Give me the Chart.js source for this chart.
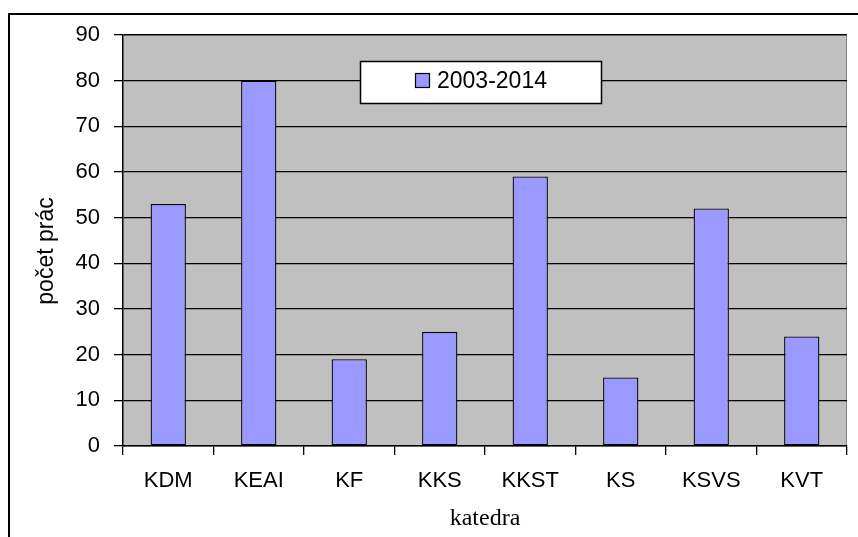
<!DOCTYPE html>
<html>
<head>
<meta charset="utf-8">
<script src="https://cdn.jsdelivr.net/npm/chart.js@4"></script>
<style>
  html, body { margin: 0; padding: 0; background: #ffffff; }
  #wrap { position: relative; width: 858px; height: 537px; overflow: hidden; }
  canvas { display: block; }
</style>
</head>
<body>
<div id="wrap"><canvas id="c" width="858" height="537"></canvas></div>
<script>
const categories = ['KDM', 'KEAI', 'KF', 'KKS', 'KKST', 'KS', 'KSVS', 'KVT'];
const seriesLabel = '2003-2014';
const seriesValues = [53, 80, 19, 25, 59, 15, 52, 24];
const yTicks = [0, 10, 20, 30, 40, 50, 60, 70, 80, 90];
const xTitle = 'katedra';
const yTitle = 'počet prác';

const SANS = '"Liberation Sans", Arial, sans-serif';
const SERIF = '"Liberation Serif", "Times New Roman", serif';

const decor = {
  id: 'decor',
  beforeDatasetsDraw(chart) {
    // nothing
  },
  beforeDraw(chart) {
    const { ctx, chartArea: a } = chart;
    ctx.save();
    ctx.fillStyle = '#C0C0C0';
    ctx.fillRect(a.left, a.top, a.right - a.left, a.bottom - a.top);
    ctx.strokeStyle = '#808080';
    ctx.lineWidth = 1;
    ctx.beginPath();
    ctx.moveTo(a.left, a.top + 0.5);
    ctx.lineTo(a.right - 0.5, a.top + 0.5);
    ctx.lineTo(a.right - 0.5, a.bottom);
    ctx.stroke();
    ctx.restore();
  },
  afterDraw(chart) {
    const { ctx, chartArea: a } = chart;
    ctx.save();
    // outer frame (left and top visible)
    ctx.strokeStyle = '#000';
    ctx.lineWidth = 2;
    ctx.beginPath();
    ctx.moveTo(9, 540);
    ctx.lineTo(9, 14);
    ctx.lineTo(860, 14);
    ctx.stroke();

    // y axis title
    ctx.fillStyle = '#000';
    ctx.font = '23px ' + SANS;
    ctx.textAlign = 'center';
    ctx.textBaseline = 'middle';
    ctx.translate(47, 251);
    ctx.rotate(-Math.PI / 2);
    ctx.fillText(yTitle, 0, 0);
    ctx.restore();

    // x axis title
    ctx.save();
    ctx.fillStyle = '#000';
    ctx.font = '24px ' + SERIF;
    ctx.textAlign = 'center';
    ctx.textBaseline = 'middle';
    ctx.fillText(xTitle, 485, 519);
    ctx.restore();

    // legend box
    const ds = chart.data.datasets[0];
    ctx.save();
    ctx.fillStyle = '#ffffff';
    ctx.fillRect(360, 61, 242, 43);
    ctx.strokeStyle = '#000';
    ctx.lineWidth = 1.5;
    ctx.strokeRect(360.5, 61.5, 241, 42);
    ctx.fillStyle = ds.backgroundColor;
    ctx.fillRect(415, 73, 15, 15);
    ctx.lineWidth = 1.2;
    ctx.strokeStyle = '#000';
    ctx.strokeRect(415.5, 73.5, 14, 14);
    ctx.fillStyle = '#000';
    ctx.font = '23px ' + SANS;
    ctx.textAlign = 'left';
    ctx.textBaseline = 'middle';
    ctx.fillText(ds.label, 437, 82);
    ctx.restore();
  }
};

new Chart(document.getElementById('c'), {
  type: 'bar',
  data: {
    labels: categories,
    datasets: [{
      label: seriesLabel,
      data: seriesValues,
      backgroundColor: '#9999FF',
      borderColor: '#000000',
      borderWidth: 1.3,
      borderSkipped: false,
      barPercentage: 0.39,
      categoryPercentage: 1.0
    }]
  },
  options: {
    responsive: false,
    devicePixelRatio: 1,
    animation: false,
    layout: { padding: { left: 0, top: 35, right: 11, bottom: 0 } },
    plugins: {
      legend: { display: false },
      tooltip: { enabled: false },
      title: { display: false }
    },
    scales: {
      x: {
        offset: true,
        grid: {
          offset: true,
          drawOnChartArea: false,
          drawTicks: true,
          tickLength: 9,
          color: '#000',
          lineWidth: 1.3
        },
        border: { display: true, color: '#000', width: 1.5 },
        ticks: {
          color: '#000',
          font: { family: SANS, size: 22 },
          padding: 13,
          maxRotation: 0,
          autoSkip: false
        },
        afterFit(scale) { scale.height = 91; }
      },
      y: {
        min: 0,
        max: 90,
        afterBuildTicks(scale) { scale.ticks = yTicks.map(v => ({ value: v })); },
        grid: {
          drawOnChartArea: true,
          drawTicks: true,
          tickLength: 9,
          color: '#000',
          lineWidth: 1.3
        },
        border: { display: true, color: '#000', width: 1.5 },
        ticks: {
          color: '#000',
          font: { family: SANS, size: 22 },
          padding: 14
        },
        afterFit(scale) { scale.width = 123; }
      }
    }
  },
  plugins: [decor]
});
</script>
</body>
</html>
